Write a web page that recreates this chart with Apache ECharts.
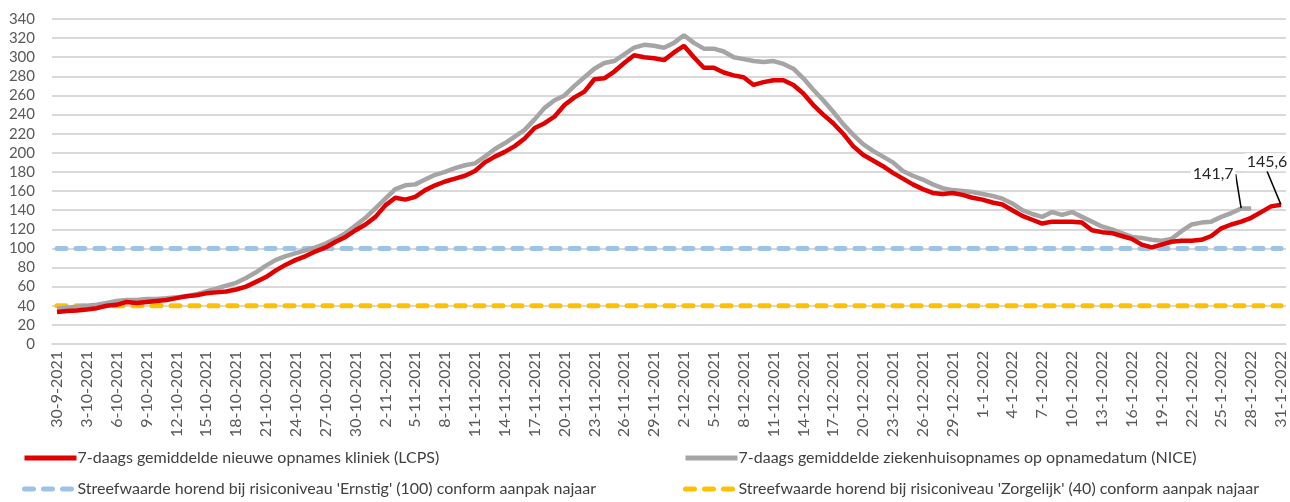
<!DOCTYPE html>
<html>
<head>
<meta charset="utf-8">
<script src="https://cdn.jsdelivr.net/npm/echarts@6/dist/echarts.min.js"></script>
<style>
  html, body { margin: 0; padding: 0; background: #fff; }
  #chart { width: 1290px; height: 502px; }
</style>
</head>
<body>
<div id="chart"></div>
<script>
// datums 30-9-2021 t/m 31-1-2022
var dates = [];
(function () {
  var d = new Date(2021, 8, 30);
  for (var i = 0; i < 124; i++) {
    dates.push(d.getDate() + '-' + (d.getMonth() + 1) + '-' + d.getFullYear());
    d.setDate(d.getDate() + 1);
  }
})();

// 7-daags gemiddelde LCPS (rood)
var lcps = [
  33.5, 34.5, 35, 36, 37.5, 40, 41, 44, 43, 44,
  45, 46, 48, 50, 51, 53, 54, 55, 57, 60,
  65, 70, 77, 83, 88, 92, 97, 101, 107, 112,
  119, 125, 133, 145, 153, 151, 154, 161, 166, 170,
  173, 176, 181, 190, 196, 201, 207, 215, 226, 231,
  238, 250, 258, 264, 277, 278, 285, 294, 302, 300,
  299, 297, 305, 312, 300, 289, 289, 284, 281, 279,
  271, 274, 276, 276, 271, 262, 250, 240, 231, 220,
  207, 198, 192, 186, 179, 173, 167, 162, 158, 157,
  158, 156, 153, 151, 148, 146, 140, 134, 130, 126,
  128, 128, 128, 127, 119, 117, 116, 113, 110, 104,
  101, 104, 107, 108, 108, 109, 113, 121, 125, 128,
  132, 138, 144, 145.6
];

// 7-daags gemiddelde NICE (grijs), laatste dagen nog niet bekend
var nice = [
  37, 38, 39, 40, 41, 43, 45, 46, 46, 47,
  47, 48, 49, 50, 52, 55, 58, 61, 64, 69,
  75, 82, 88, 92, 95, 98, 101, 105, 110, 116,
  124, 132, 142, 152, 162, 166, 167, 172, 177, 180,
  184, 187, 189, 196, 204, 210, 217, 224, 235, 247,
  255, 260, 270, 279, 288, 294, 296, 303, 310, 313,
  312, 310, 315, 323, 315, 309, 309, 306, 300, 298,
  296, 295, 296, 293, 288, 278, 266, 255, 243, 230,
  219, 209, 202, 196, 190, 181, 176, 172, 167, 163,
  161, 160, 159, 157, 155, 152, 147, 140, 136, 133,
  138, 135, 138, 133, 128, 123, 120, 116, 112, 111,
  109, 108, 110, 118, 125, 127, 128, 133, 137, 141.7,
  141.7, null, null, null
];

var ERNSTIG = 100;
var ZORGELIJK = 40;
var ernstig = dates.map(function () { return ERNSTIG; });
var zorgelijk = dates.map(function () { return ZORGELIJK; });

var yTicks = [0, 340, 20]; // min, max, stap

var nameLcps = '7-daags gemiddelde nieuwe opnames kliniek (LCPS)';
var nameNice = '7-daags gemiddelde ziekenhuisopnames op opnamedatum (NICE)';
var nameErnstig = "Streefwaarde horend bij risiconiveau 'Ernstig' (100) conform aanpak najaar";
var nameZorgelijk = "Streefwaarde horend bij risiconiveau 'Zorgelijk' (40) conform aanpak najaar";

var FONT = 'Lato';

// laatste waarde met label (punt zelf onzichtbaar klein)
function markLast(v, txt) {
  return {
    value: v,
    symbol: 'circle',
    symbolSize: 1,
    label: { show: true, formatter: txt },
    labelLine: { show: true }
  };
}
lcps[123] = markLast(145.6, '145,6');
nice[119] = markLast(141.7, '141,7');

var chart = echarts.init(document.getElementById('chart'));

var endLabel = {
  show: false,
  color: '#262626',
  fontSize: 16,
  fontFamily: FONT,
  backgroundColor: '#fff',
  padding: [1, 2]
};
var endLabelLine = { show: false, lineStyle: { color: '#000', width: 1.5 } };

function legendAt(left, top, name) {
  return {
    left: left, top: top, padding: 0,
    itemWidth: 52, itemHeight: 14,
    itemStyle: { opacity: 0 },
    lineStyle: { width: 5 },
    textStyle: { color: '#404040', fontSize: 16, fontFamily: FONT, padding: [0, 0, 0, -4] },
    data: [name]
  };
}

var option = {
  animation: false,
  textStyle: { fontFamily: FONT },
  grid: { left: 52, right: 4, top: 19, bottom: 158 },
  legend: [
    legendAt(22, 450, nameLcps),
    legendAt(683, 450, nameNice),
    legendAt(22, 481, nameErnstig),
    legendAt(683, 481, nameZorgelijk)
  ],
  xAxis: {
    type: 'category',
    data: dates,
    boundaryGap: true,
    axisLine: { lineStyle: { color: '#D9D9D9', width: 1.5 } },
    axisTick: { interval: 2, length: 5, lineStyle: { color: '#D9D9D9', width: 1.5 } },
    axisLabel: {
      interval: 2, rotate: 90, color: '#595959', fontSize: 16, fontFamily: FONT, margin: 7
    }
  },
  yAxis: {
    type: 'value',
    min: yTicks[0], max: yTicks[1], interval: yTicks[2],
    axisLine: { show: false },
    axisTick: { show: false },
    axisLabel: { color: '#595959', fontSize: 15, fontFamily: FONT, margin: 17 },
    splitLine: { lineStyle: { color: '#D9D9D9', width: 2 } }
  },
  series: [
    {
      name: nameErnstig, type: 'line', data: ernstig, symbol: 'none', z: 2,
      lineStyle: { color: '#9DC3E6', width: 5, type: [9, 10], cap: 'round' },
      itemStyle: { color: '#9DC3E6' }
    },
    {
      name: nameZorgelijk, type: 'line', data: zorgelijk, symbol: 'none', z: 2,
      lineStyle: { color: '#FFC000', width: 5, type: [9, 10], cap: 'round' },
      itemStyle: { color: '#FFC000' }
    },
    {
      name: nameNice, type: 'line', data: nice, symbol: 'none', z: 3,
      lineStyle: { color: '#A5A5A5', width: 4.5 },
      itemStyle: { color: '#A5A5A5' },
      label: endLabel, labelLine: endLabelLine,
      labelLayout: function (p) { return { dx: -28, dy: -20 }; }
    },
    {
      name: nameLcps, type: 'line', data: lcps, symbol: 'none', z: 4,
      lineStyle: { color: '#E00000', width: 4.5 },
      itemStyle: { color: '#E00000' },
      label: endLabel, labelLine: endLabelLine,
      labelLayout: function (p) { return { dx: -14, dy: -28 }; }
    }
  ]
};

chart.setOption(option);
</script>
</body>
</html>
